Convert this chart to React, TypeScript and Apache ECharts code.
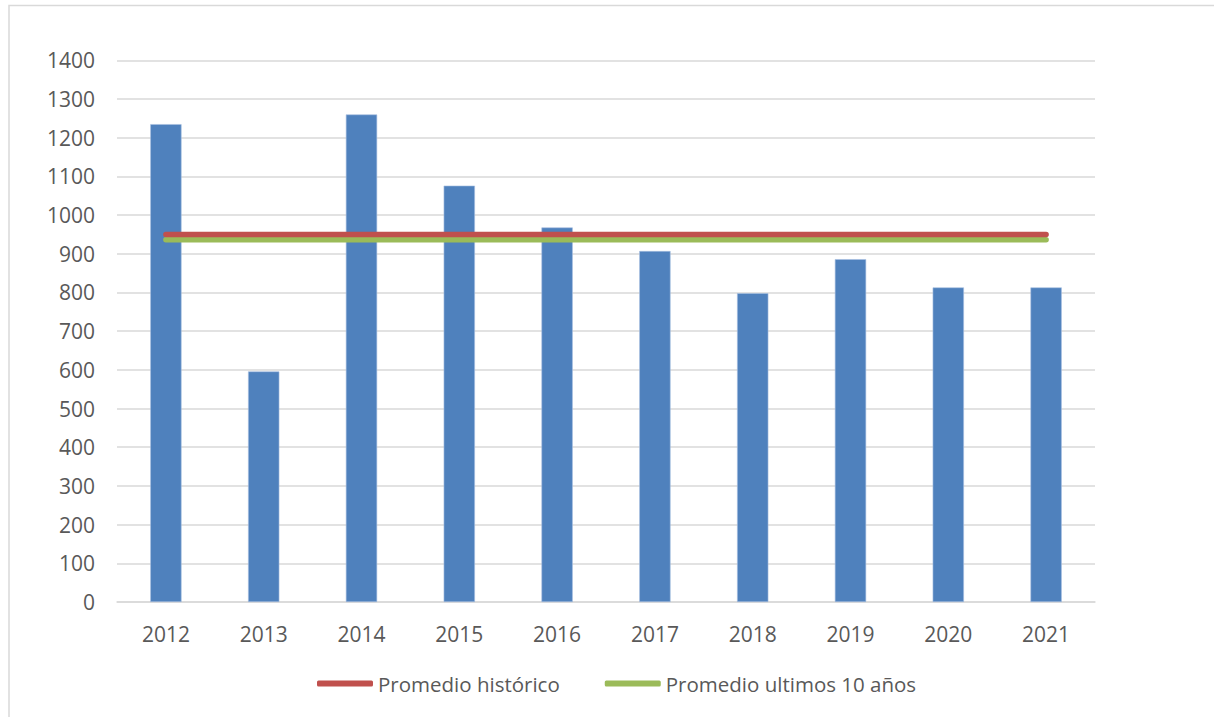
import React, { useEffect, useRef } from "react";
import * as echarts from "echarts";

const years = ["2012", "2013", "2014", "2015", "2016", "2017", "2018", "2019", "2020", "2021"];
const values = [1235, 596, 1260, 1076, 968, 907, 798, 886, 813, 813];
const promedioHistorico = [950, 950, 950, 950, 950, 950, 950, 950, 950, 950];
const promedioUltimos10 = [936, 936, 936, 936, 936, 936, 936, 936, 936, 936];
const seriesNames = ["Valor", "Promedio histórico", "Promedio ultimos 10 años"];

const FONT = "'Open Sans', sans-serif";
const TEXT = "#595959";

export default function App() {
  const ref = useRef<HTMLDivElement>(null);
  useEffect(() => {
    if (!ref.current) return;
    const chart = echarts.init(ref.current, null, { renderer: "svg" });
    chart.setOption({
      animation: false,
      backgroundColor: "#ffffff",
      textStyle: { fontFamily: FONT },
      graphic: [
        {
          type: "rect",
          shape: { x: 9, y: 5.5, width: 1220, height: 730 },
          style: { fill: "none", stroke: "#d9d9d9", lineWidth: 1.5 },
          silent: true,
          z: -10,
        },
      ],
      grid: { left: 117, right: 119, top: 60.3, bottom: 115 },
      legend: {
        data: [seriesNames[1], seriesNames[2]],
        left: 317,
        top: 673,
        padding: 0,
        icon: "roundRect",
        itemWidth: 56,
        itemHeight: 6,
        itemGap: 45,
        textStyle: { fontFamily: FONT, fontSize: 20.5, color: TEXT },
      },
      xAxis: {
        type: "category",
        data: years,
        axisLine: { lineStyle: { color: "#d9d9d9", width: 1.5 } },
        axisTick: { show: false },
        axisLabel: { fontFamily: FONT, fontSize: 21, color: TEXT, margin: 21 },
      },
      yAxis: {
        type: "value",
        min: 0,
        max: 1400,
        interval: 100,
        axisLine: { show: false },
        axisTick: { show: false },
        splitLine: { lineStyle: { color: "#d9d9d9", width: 1.5 } },
        axisLabel: {
          fontFamily: FONT,
          fontSize: 21,
          color: TEXT,
          margin: 22,
          formatter: (v: number) => String(v),
        },
      },
      series: [
        {
          name: seriesNames[0],
          type: "bar",
          data: values,
          barWidth: "32%",
          itemStyle: { color: "#4f81bd", borderColor: "#a7c0e0", borderWidth: 0.6 },
          z: 2,
        },
        {
          name: seriesNames[1],
          type: "line",
          data: promedioHistorico,
          symbol: "none",
          color: "#c0504d",
          lineStyle: { color: "#c0504d", width: 5.5, cap: "round" },
          z: 4,
        },
        {
          name: seriesNames[2],
          type: "line",
          data: promedioUltimos10,
          symbol: "none",
          color: "#9bbb59",
          lineStyle: { color: "#9bbb59", width: 5.5, cap: "round" },
          z: 3,
        },
      ],
    });
    return () => chart.dispose();
  }, []);
  return (
    <div
      ref={ref}
      style={{ position: "fixed", left: 0, top: 0, width: 1214, height: 717 }}
    />
  );
}
